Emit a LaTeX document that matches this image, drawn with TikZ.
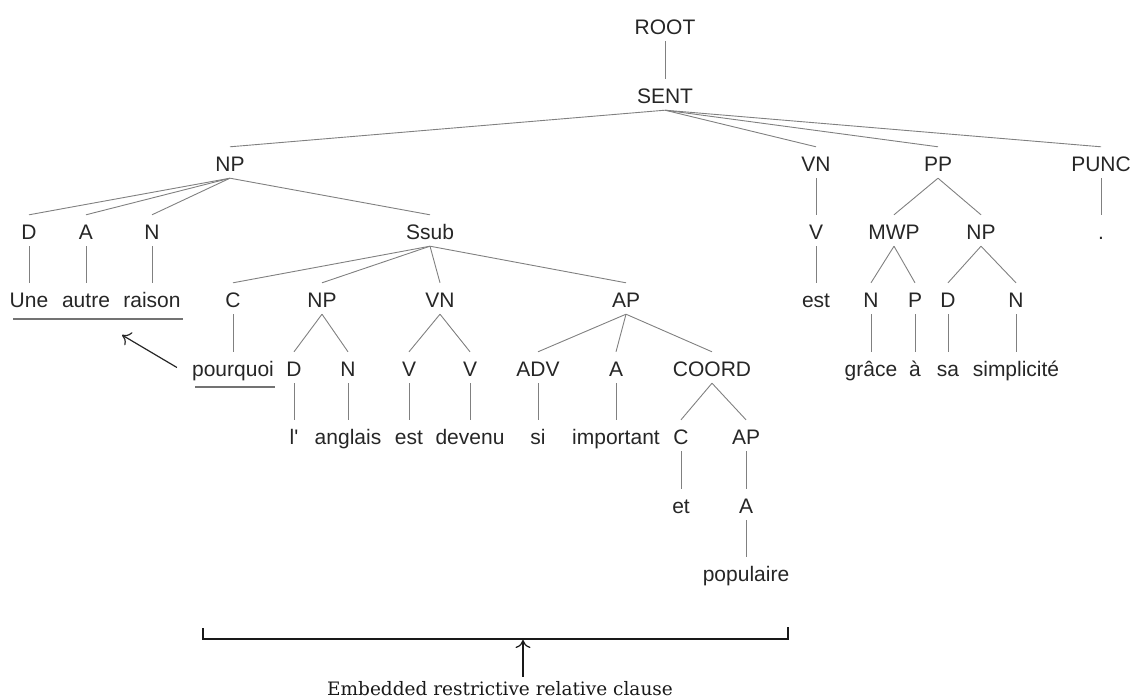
\documentclass[tikz,border=0pt]{standalone}
\usepackage{fontspec}
\setmainfont{Liberation Sans}
\newfontfamily\notefont{DejaVu Serif}
\usetikzlibrary{arrows.meta, calc}

\begin{document}
\begin{tikzpicture}[x=1pt, y=-1pt,
    cat/.style={anchor=base, inner sep=0pt, text height=24.5pt, text depth=6.5pt,
                font=\fontsize{21}{25}\selectfont, text=black!85},
    branch/.style={draw=black!50, line width=0.9pt},
    uline/.style={draw=black!55, line width=1.4pt},
    >={To[length=8pt, width=15pt]}]
                \useasboundingbox (0,0) rectangle (1134,698);

                % Top
                \node[cat] (root) at (665,34.5) {ROOT};
                \node[cat] (sent) at (665,103.5) {SENT};
                \draw[branch] (root.south) -- (sent.north);

                % Level 2
                \node[cat] (np) at (230,171.5) {NP};
                \node[cat] (vn) at (816,171.5) {VN};
                \node[cat] (pp) at (938,171.5) {PP};
                \node[cat] (punc) at (1101,171.5) {PUNC};
                \foreach \c in {np,vn,pp,punc}
                    \draw[branch] (sent.south) -- (\c.north);

                % Level 3
                \node[cat] (d) at (29,239.5) {D};
                \node[cat] (a) at (86,239.5) {A};
                \node[cat] (n) at (152,239.5) {N};
                \node[cat] (ssub) at (430,239.5) {Ssub};
                \node[cat] (v) at (816,239.5) {V};
                \node[cat] (mwp) at (894,239.5) {MWP};
                \node[cat] (npb) at (981,239.5) {NP};
                \node[cat] (dot) at (1101,239.5) {.};
                \foreach \c in {d,a,n,ssub}
                    \draw[branch] (np.south) -- (\c.north);
                \draw[branch] (vn.south) -- (v.north);
                \foreach \c in {mwp,npb}
                    \draw[branch] (pp.south) -- (\c.north);
                \draw[branch] (punc.south) -- (dot.north);

                % Level 4
                \node[cat] (une) at (29,307.5) {Une};
                \node[cat] (autre) at (86,307.5) {autre};
                \node[cat] (raison) at (152,307.5) {raison};
                \node[cat] (c) at (233,307.5) {C};
                \node[cat] (npa) at (322,307.5) {NP};
                \node[cat] (vna) at (440,307.5) {VN};
                \node[cat] (ap) at (626,307.5) {AP};
                \node[cat] (est) at (816,307.5) {est};
                \node[cat] (nb) at (871,307.5) {N};
                \node[cat] (p) at (915,307.5) {P};
                \node[cat] (db) at (948,307.5) {D};
                \node[cat] (nc) at (1016,307.5) {N};
                \draw[branch] (d.south) -- (une.north);
                \draw[branch] (a.south) -- (autre.north);
                \draw[branch] (n.south) -- (raison.north);
                \foreach \c in {c,npa,vna,ap}
                    \draw[branch] (ssub.south) -- (\c.north);
                \draw[branch] (v.south) -- (est.north);
                \foreach \c in {nb,p}
                    \draw[branch] (mwp.south) -- (\c.north);
                \foreach \c in {db,nc}
                    \draw[branch] (npb.south) -- (\c.north);

                % Level 5
                \node[cat] (pourquoi) at (233,376.5) {pourquoi};
                \node[cat] (da) at (294,376.5) {D};
                \node[cat] (na) at (348,376.5) {N};
                \node[cat] (va) at (409,376.5) {V};
                \node[cat] (vb) at (470,376.5) {V};
                \node[cat] (adv) at (538,376.5) {ADV};
                \node[cat] (aa) at (616,376.5) {A};
                \node[cat] (coord) at (712,376.5) {COORD};
                \node[cat] (grace) at (871,376.5) {grâce};
                \node[cat] (agrave) at (915,376.5) {à};
                \node[cat] (sa) at (948,376.5) {sa};
                \node[cat] (simpl) at (1016,376.5) {simplicité};
                \draw[branch] (c.south) -- (pourquoi.north);
                \foreach \c in {da,na}
                    \draw[branch] (npa.south) -- (\c.north);
                \foreach \c in {va,vb}
                    \draw[branch] (vna.south) -- (\c.north);
                \foreach \c in {adv,aa,coord}
                    \draw[branch] (ap.south) -- (\c.north);
                \draw[branch] (nb.south) -- (grace.north);
                \draw[branch] (p.south) -- (agrave.north);
                \draw[branch] (db.south) -- (sa.north);
                \draw[branch] (nc.south) -- (simpl.north);

                % Level 6
                \node[cat] (l) at (294,444.5) {l\textquotesingle};
                \node[cat] (anglais) at (348,444.5) {anglais};
                \node[cat] (estb) at (409,444.5) {est};
                \node[cat] (devenu) at (470,444.5) {devenu};
                \node[cat] (si) at (538,444.5) {si};
                \node[cat] (important) at (616,444.5) {important};
                \node[cat] (cb) at (681,444.5) {C};
                \node[cat] (apb) at (746,444.5) {AP};
                \draw[branch] (da.south) -- (l.north);
                \draw[branch] (na.south) -- (anglais.north);
                \draw[branch] (va.south) -- (estb.north);
                \draw[branch] (vb.south) -- (devenu.north);
                \draw[branch] (adv.south) -- (si.north);
                \draw[branch] (aa.south) -- (important.north);
                \foreach \c in {cb,apb}
                    \draw[branch] (coord.south) -- (\c.north);

                % Level 7 and 8
                \node[cat] (et) at (681,513.5) {et};
                \node[cat] (ab) at (746,513.5) {A};
                \node[cat] (populaire) at (746,581.5) {populaire};
                \draw[branch] (cb.south) -- (et.north);
                \draw[branch] (apb.south) -- (ab.north);
                \draw[branch] (ab.south) -- (populaire.north);

                % Antecedent and relative pronoun
                \draw[uline] (13,319) -- (183,319);
                \draw[uline] (195,387) -- (275,387);
                \coordinate (antec) at (122,335);
                \draw[->, line width=1.2pt, black!85] ([xshift=-15pt]pourquoi.west) -- (antec);

                % Relative clause bracket
                \draw[line width=1.4pt, black!90] (203,628) -- (203,639) -- (788,639) -- (788,627);
                \coordinate (clause) at (523,640);
                \node[anchor=base, inner sep=0pt, text height=18pt, text depth=4pt,
                      font=\notefont\fontsize{18.5}{22}\selectfont, text=black!90]
                      (rel) at (500,695) {Embedded restrictive relative clause};
                \draw[->, line width=1.2pt, black!90] (rel.north -| clause) -- (clause);
            \end{tikzpicture}
\end{document}
